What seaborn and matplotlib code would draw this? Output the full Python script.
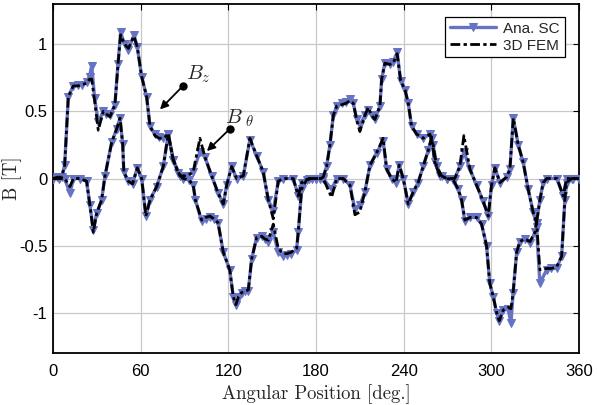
import matplotlib
matplotlib.use("Agg")
import matplotlib.pyplot as plt
import seaborn as sns
import pandas as pd

# ---- data -------------------------------------------------------------
bz_deg = [0, 3, 6, 8, 10.5, 13.9, 17, 20, 23, 25, 26.5, 28.5, 31, 34.4, 36.5, 39,
          42.4, 44.5, 46.3, 49, 51.6, 55.4, 57.7, 60.7, 64.1, 66.4, 69.8, 72.5,
          75.5, 78.9, 82.3, 85.8, 89, 93, 96, 97.5, 101.8, 104.5, 107.5, 110, 113,
          116.6, 121, 123.4, 125.2, 127, 129.1, 131.5, 133.7, 136, 139.4, 142.8,
          145, 147.4, 150.8, 154.2, 157.6, 160, 163, 166.8, 167.9, 170.2, 173.6,
          177, 180, 183, 185, 187.3, 189.6, 191.9, 194.2, 197.6, 200.5, 203.3,
          205.6, 208, 210.1, 213.5, 215.8, 218.1, 220.4, 223.8, 225, 227.2, 230.6,
          232.9, 235.6, 238, 241, 243.2, 245.5, 249, 253.4, 258, 260.3, 262.6, 266,
          270, 274, 277.4, 279.7, 282, 285.4, 290, 293.4, 296.8, 299, 301.4, 303.7,
          305.5, 308.2, 311.6, 313.5, 315, 317.4, 319.6, 323, 326.5, 330, 331,
          333.3, 338, 341, 344.7, 348.2, 350.4, 351.6, 355, 360]
bz_sc = [0.0, 0.01, 0.01, 0.1, 0.61, 0.69, 0.70, 0.70, 0.72, 0.76, 0.84, 0.60, 0.42,
         0.50, 0.48, 0.47, 0.55, 0.85, 1.09, 1.0, 0.96, 1.07, 0.98, 0.76, 0.61, 0.39,
         0.33, 0.31, 0.30, 0.33, 0.14, 0.04, 0.0, -0.01, -0.05, -0.16, -0.32, -0.30,
         -0.29, -0.30, -0.33, -0.55, -0.68, -0.88, -0.94, -0.88, -0.85, -0.84, -0.84,
         -0.60, -0.44, -0.43, -0.45, -0.47, -0.40, -0.55, -0.58, -0.57, -0.56, -0.53,
         -0.40, -0.08, -0.01, 0.0, 0.0, 0.0, 0.01, 0.09, 0.25, 0.47, 0.54, 0.56, 0.57,
         0.59, 0.56, 0.44, 0.40, 0.47, 0.51, 0.47, 0.44, 0.54, 0.74, 0.86, 0.85, 0.87,
         0.94, 0.73, 0.66, 0.56, 0.39, 0.33, 0.30, 0.33, 0.25, 0.09, 0.02, 0.0, -0.01,
         -0.08, -0.16, -0.32, -0.29, -0.29, -0.34, -0.50, -0.78, -0.88, -1.0, -1.06,
         -0.98, -0.97, -1.08, -0.85, -0.55, -0.47, -0.45, -0.48, -0.40, -0.36, -0.78,
         -0.68, -0.67, -0.67, -0.58, -0.16, -0.03, 0.0, 0.0]
bz_fem = [0.0, 0.01, 0.01, 0.1, 0.61, 0.69, 0.69, 0.70, 0.71, 0.74, 0.74, 0.58, 0.36,
          0.50, 0.48, 0.46, 0.55, 0.85, 1.07, 1.0, 0.97, 1.06, 0.98, 0.76, 0.61, 0.39,
          0.32, 0.30, 0.30, 0.33, 0.14, 0.04, 0.0, -0.01, -0.05, -0.16, -0.31, -0.29,
          -0.28, -0.30, -0.33, -0.55, -0.68, -0.88, -0.94, -0.88, -0.85, -0.84, -0.83,
          -0.60, -0.44, -0.43, -0.45, -0.46, -0.34, -0.52, -0.56, -0.56, -0.55, -0.52,
          -0.40, -0.08, -0.01, 0.0, 0.0, 0.0, 0.01, 0.09, 0.25, 0.47, 0.54, 0.55, 0.56,
          0.58, 0.56, 0.43, 0.35, 0.47, 0.53, 0.47, 0.44, 0.54, 0.74, 0.86, 0.85, 0.86,
          0.93, 0.73, 0.66, 0.56, 0.39, 0.33, 0.30, 0.33, 0.25, 0.09, 0.02, 0.0, -0.01,
          -0.08, -0.16, -0.31, -0.29, -0.29, -0.34, -0.50, -0.78, -0.88, -1.0, -1.06,
          -0.98, -0.96, -0.97, -0.85, -0.55, -0.47, -0.45, -0.47, -0.40, -0.32, -0.68,
          -0.67, -0.67, -0.66, -0.58, -0.16, -0.03, 0.0, 0.0]

bt_deg = [0, 4, 8, 11.6, 14, 18.5, 23, 25.3, 27.6, 29.9, 33.3, 35.6, 40.2, 43.6, 45.9,
          47.7, 48.5, 51.5, 54.5, 57.7, 60.7, 63.6, 66.4, 71, 75.5, 78.9, 82.3, 86.9,
          92, 96, 100.6, 104, 108.6, 113.1, 116.6, 118.9, 122.3, 125.7, 130.3, 134.8,
          139.4, 143.9, 147.4, 150.8, 154.2, 157.6, 164.5, 167.9, 170.2, 175, 180,
          185, 190.7, 194.2, 198.7, 203.3, 206.7, 210, 213.5, 217, 221.5, 226, 228.4,
          231.8, 234.8, 237, 239.8, 243.2, 246.6, 250, 253.4, 256.9, 259.2, 261.4,
          264.9, 270, 275, 278.5, 281.3, 285.4, 290, 294.5, 298, 300.2, 302.5, 306,
          310.5, 312.8, 315.1, 318.5, 321.9, 325.3, 328.7, 331, 333.3, 335.6, 338,
          345, 349.3, 351.6, 356, 360]
bt_sc = [0.0, 0.0, 0.0, -0.11, 0.0, 0.0, -0.02, -0.2, -0.38, -0.26, -0.16, 0.02, 0.27,
         0.37, 0.45, 0.26, 0.05, -0.02, -0.04, 0.08, 0.0, -0.28, -0.16, -0.06, 0.09,
         0.33, 0.14, 0.02, 0.02, 0.05, 0.20, 0.16, 0.02, -0.11, -0.19, -0.05, 0.09, 0.0,
         0.02, 0.29, 0.17, 0.05, -0.16, -0.24, -0.02, 0.0, 0.0, -0.13, -0.03, 0.0, 0.0,
         0.0, -0.08, 0.0, 0.0, -0.05, -0.23, -0.20, -0.10, 0.10, 0.19, 0.28, 0.07, 0.0,
         -0.03, 0.10, 0.0, -0.19, -0.10, -0.03, 0.09, 0.21, 0.30, 0.12, 0.02, 0.0, 0.0,
         0.09, 0.20, 0.07, -0.05, -0.17, -0.28, -0.05, 0.08, -0.03, 0.01, 0.07, 0.45,
         0.25, 0.12, -0.08, -0.25, -0.33, -0.16, -0.03, 0.0, 0.0, -0.13, 0.0, 0.0, 0.0]
bt_fem = [0.0, 0.0, 0.0, -0.06, 0.0, 0.0, -0.02, -0.2, -0.40, -0.26, -0.16, 0.02, 0.27,
          0.37, 0.45, 0.26, 0.05, -0.02, -0.04, 0.08, 0.0, -0.28, -0.16, -0.06, 0.09,
          0.33, 0.14, 0.02, 0.02, 0.05, 0.30, 0.16, 0.02, -0.11, -0.19, -0.05, 0.09,
          0.0, 0.02, 0.30, 0.17, 0.05, -0.16, -0.30, -0.02, 0.0, 0.0, -0.13, -0.03, 0.0,
          0.0, 0.0, -0.14, 0.0, 0.0, -0.05, -0.27, -0.25, -0.10, 0.10, 0.19, 0.30, 0.07,
          0.0, -0.03, 0.10, 0.0, -0.19, -0.10, -0.03, 0.09, 0.21, 0.31, 0.12, 0.02, 0.0,
          0.0, 0.09, 0.32, 0.07, -0.05, -0.17, -0.28, -0.05, 0.08, -0.03, 0.01, 0.07,
          0.45, 0.25, 0.12, -0.08, -0.25, -0.33, -0.16, -0.03, 0.0, 0.0, -0.13, 0.0,
          0.0, 0.0]

x_ticks = [0, 60, 120, 180, 240, 300, 360]
y_ticks = [-1, -0.5, 0, 0.5, 1]
y_tick_labels = ["-1", "-0.5", "0", "0.5", "1"]

# ---- style ------------------------------------------------------------
sns.set_style("white")
plt.rcParams["font.family"] = ["Liberation Sans", "DejaVu Sans"]
plt.rcParams["mathtext.fontset"] = "cm"

blue = "#6673c4"
fem_dash = (0, (3.5, 1.2, 1.2, 1.2))

fig = plt.figure(figsize=(5.98, 4.05), dpi=100)
ax = fig.add_axes([0.0886, 0.1284, 0.968 - 0.0886, 0.990 - 0.1284])

df_bz = pd.DataFrame({"deg": bz_deg, "sc": bz_sc, "fem": bz_fem})
df_bt = pd.DataFrame({"deg": bt_deg, "sc": bt_sc, "fem": bt_fem})

for i, df in enumerate([df_bz, df_bt]):
    sns.lineplot(data=df, x="deg", y="sc", ax=ax, color=blue, lw=2.4,
                 marker="v", markersize=6, markeredgecolor=blue,
                 estimator=None, sort=False,
                 label="Ana. SC" if i == 0 else None, zorder=3)
for i, df in enumerate([df_bz, df_bt]):
    sns.lineplot(data=df, x="deg", y="fem", ax=ax, color="black", lw=2.0,
                 dashes=False, estimator=None, sort=False,
                 label="3D FEM" if i == 0 else None, zorder=4)
for ln in ax.get_lines()[2:]:
    ln.set_linestyle(fem_dash)

ax.set_xlim(0, 360)
ax.set_ylim(-1.3, 1.3)
ax.set_xticks(x_ticks)
ax.set_yticks(y_ticks)
ax.set_yticklabels(y_tick_labels)
ax.tick_params(direction="in", top=True, right=True, labelsize=12,
               length=4, width=0.8, colors="black")
ax.tick_params(axis="x", pad=8)
ax.tick_params(axis="y", pad=4)
ax.grid(True, color="#c8c8c8", lw=0.9)
for s in ax.spines.values():
    s.set_color("black")
    s.set_linewidth(1.3)

ax.set_xlabel("Angular Position [deg.]", family="cmr10", fontsize=13.5)
ax.set_ylabel("B [T]", family="cmr10", fontsize=13.5)
ax.xaxis.set_label_coords(0.5, -0.09)
ax.yaxis.set_label_coords(-0.058, 0.5)

# annotations
ax.annotate("", xy=(71.9, 0.50), xytext=(89, 0.69),
            arrowprops=dict(arrowstyle="-|>", color="black", lw=1.3, mutation_scale=12))
ax.plot([89], [0.69], "o", color="black", ms=5, zorder=6)
ax.text(91, 0.74, r"$B_z$", fontsize=15)
ax.annotate("", xy=(104, 0.19), xytext=(121.1, 0.37),
            arrowprops=dict(arrowstyle="-|>", color="black", lw=1.3, mutation_scale=12))
ax.plot([121.1], [0.37], "o", color="black", ms=5, zorder=6)
ax.text(118, 0.41, r"$B_{\ \theta}$", fontsize=15)

leg = ax.legend(loc="upper right", bbox_to_anchor=(0.973, 0.963), fontsize=11,
                frameon=True, fancybox=False, edgecolor="black", framealpha=1,
                handlelength=3.0, borderpad=0.3, labelspacing=0.2, handletextpad=0.5,
                borderaxespad=0)
leg.get_frame().set_linewidth(0.9)
for h in leg.get_lines():
    if h.get_color() == "black":
        h.set_linestyle(fem_dash)

fig.savefig("out.png", dpi=100)
